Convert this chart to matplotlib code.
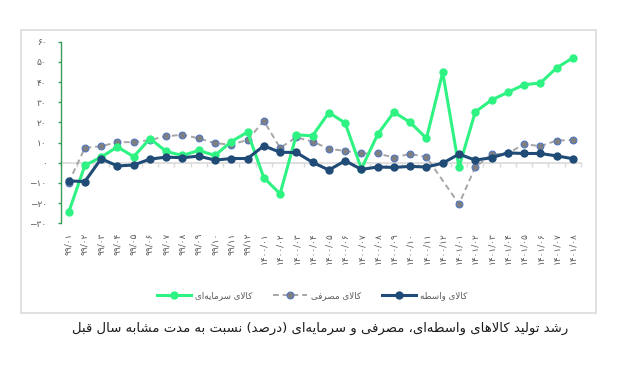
import numpy as np
import matplotlib.pyplot as plt
from matplotlib import font_manager, ft2font
from matplotlib.patches import Rectangle

# months (Persian calendar) and growth rates in percent
months = ['۹۹/۰۱', '۹۹/۰۲', '۹۹/۰۳', '۹۹/۰۴', '۹۹/۰۵', '۹۹/۰۶', '۹۹/۰۷', '۹۹/۰۸',
          '۹۹/۰۹', '۹۹/۱۰', '۹۹/۱۱', '۹۹/۱۲',
          '۱۴۰۰/۰۱', '۱۴۰۰/۰۲', '۱۴۰۰/۰۳', '۱۴۰۰/۰۴', '۱۴۰۰/۰۵', '۱۴۰۰/۰۶', '۱۴۰۰/۰۷',
          '۱۴۰۰/۰۸', '۱۴۰۰/۰۹', '۱۴۰۰/۱۰', '۱۴۰۰/۱۱', '۱۴۰۰/۱۲',
          '۱۴۰۱/۰۱', '۱۴۰۱/۰۲', '۱۴۰۱/۰۳', '۱۴۰۱/۰۴', '۱۴۰۱/۰۵', '۱۴۰۱/۰۶', '۱۴۰۱/۰۷',
          '۱۴۰۱/۰۸']
capital = [-24.6, -1.3, 2.8, 7.9, 3.0, 12.0, 5.6, 3.6, 6.1, 3.6, 10.5, 15.2,
           -7.4, -15.4, 13.8, 13.4, 24.9, 19.7, -3.0, 14.1, 25.1, 20.0, 12.1, 44.8,
           -2.3, 25.2, 31.1, 34.9, 38.7, 39.5, 47.0, 52.0]
consumer = [-9.8, 7.4, 8.2, 10.2, 10.2, 11.3, 13.1, 13.9, 12.1, 9.7, 9.0, 11.3,
            20.7, 7.4, 12.6, 10.5, 6.9, 5.9, 4.6, 4.6, 2.6, 4.4, 2.8, np.nan,
            -20.5, -2.1, 4.1, 4.6, 9.3, 8.2, 11.0, 11.3]
intermediate = [-9.0, -9.3, 2.0, -1.6, -1.1, 1.8, 2.8, 2.5, 3.3, 1.3, 2.1, 2.1,
                8.4, 5.2, 5.1, 0.2, -3.6, 1.0, -3.3, -2.1, -2.3, -1.8, -2.1, -0.2,
                4.3, 1.3, 2.5, 4.9, 4.6, 4.6, 3.4, 2.0]
yticks = [-30, -20, -10, 0, 10, 20, 30, 40, 50, 60]
ytick_labels = ['−۳۰', '−۲۰', '−۱۰', '۰', '۱۰', '۲۰', '۳۰', '۴۰', '۵۰', '۶۰']

label_capital = 'کالای سرمایه‌ای'
label_consumer = 'کالای مصرفی'
label_intermediate = 'کالای واسطه'
caption = 'رشد تولید کالاهای واسطه‌ای، مصرفی و سرمایه‌ای (درصد) نسبت به مدت مشابه سال قبل'

# --- tiny Persian shaper (matplotlib has no complex text layout) ---
# isolated, final, initial, medial
FORMS = {
    'ا': ('\uFE8D', '\uFE8E', None, None),
    'ب': ('\uFE8F', '\uFE90', '\uFE91', '\uFE92'),
    'ت': ('\uFE95', '\uFE96', '\uFE97', '\uFE98'),
    'د': ('\uFEA9', '\uFEAA', None, None),
    'ر': ('\uFEAD', '\uFEAE', None, None),
    'س': ('\uFEB1', '\uFEB2', '\uFEB3', '\uFEB4'),
    'ش': ('\uFEB5', '\uFEB6', '\uFEB7', '\uFEB8'),
    'ص': ('\uFEB9', '\uFEBA', '\uFEBB', '\uFEBC'),
    'ط': ('\uFEC1', '\uFEC2', '\uFEC3', '\uFEC4'),
    'ف': ('\uFED1', '\uFED2', '\uFED3', '\uFED4'),
    'ق': ('\uFED5', '\uFED6', '\uFED7', '\uFED8'),
    'ل': ('\uFEDD', '\uFEDE', '\uFEDF', '\uFEE0'),
    'م': ('\uFEE1', '\uFEE2', '\uFEE3', '\uFEE4'),
    'ن': ('\uFEE5', '\uFEE6', '\uFEE7', '\uFEE8'),
    'ه': ('\uFEE9', '\uFEEA', '\uFEEB', '\uFEEC'),
    'و': ('\uFEED', '\uFEEE', None, None),
    'ک': ('\uFB8E', '\uFB8F', '\uFB90', '\uFB91'),
    'ی': ('\uFBFC', '\uFBFD', '\uFBFE', '\uFBFF'),
    'لا': ('\uFEFB', '\uFEFC', None, None),
}
FALLBACK = {
    'ک': ('\uFED9', '\uFEDA', '\uFEDB', '\uFEDC'),
    'ی': ('\uFEEF', '\uFEF0', '\uFEF3', '\uFEF4'),
}
_ft = ft2font.FT2Font(font_manager.findfont('DejaVu Sans'))
for k, v in FALLBACK.items():
    if any(_ft.get_char_index(ord(c)) == 0 for c in FORMS[k]):
        FORMS[k] = v


def fa(text):
    units = []
    i = 0
    while i < len(text):
        if text[i] == 'ل' and i + 1 < len(text) and text[i + 1] == 'ا':
            units.append('لا')
            i += 2
        else:
            units.append(text[i])
            i += 1
    out = []
    for i, u in enumerate(units):
        if u not in FORMS:
            if u != '\u200c':
                out.append({'(': ')', ')': '('}.get(u, u))
            continue
        f = FORMS[u]
        prev = i > 0 and units[i - 1] in FORMS and FORMS[units[i - 1]][2] is not None
        nxt = f[2] is not None and i + 1 < len(units) and units[i + 1] in FORMS
        if prev and nxt:
            out.append(f[3])
        elif prev:
            out.append(f[1])
        elif nxt:
            out.append(f[2])
        else:
            out.append(f[0])
    return ''.join(reversed(out))


plt.rcParams['font.family'] = ['DejaVu Sans']

green = '#2ef383'
navy = '#1f4b76'
gray = '#a6a6a6'
axis_green = '#3a9a5c'
label_color = '#595959'

fig = plt.figure(figsize=(6.18, 3.77), dpi=100)
ax = fig.add_axes([0.0979, 0.4077, 0.8422, 0.4817])

x = np.arange(len(months))
cons = np.array(consumer)
ok = ~np.isnan(cons)

ax.plot(x[ok], cons[ok], color=gray, lw=1.4, ls=(0, (3, 2)), marker='o', ms=5,
        mfc='#7f7f7f', mec='#4a74c8', mew=0.7, zorder=3, label=fa(label_consumer))
ax.plot(x, capital, color=green, lw=2.2, marker='o', ms=5, mfc=green, mec=green,
        zorder=4, label=fa(label_capital))
ax.plot(x, intermediate, color=navy, lw=2.2, marker='o', ms=5, mfc=navy, mec=navy,
        zorder=5, label=fa(label_intermediate))

ax.set_xlim(-0.5, len(months) - 0.5)
ax.set_ylim(-30, 60)

for s in ['top', 'right', 'bottom']:
    ax.spines[s].set_visible(False)
ax.spines['left'].set_color(axis_green)
ax.spines['left'].set_linewidth(1.0)

ax.set_yticks(yticks)
ax.set_yticklabels(ytick_labels)
ax.tick_params(axis='y', length=2.5, width=1.0, color=axis_green, pad=7.5,
               labelsize=6.5, labelcolor=label_color)
ax.set_xticks(x)
ax.set_xticklabels(months, rotation=90, va='top', ha='center')
ax.tick_params(axis='x', length=0, pad=6.5, labelsize=6.5, labelcolor=label_color)

# zero line with category ticks
zero = ax.secondary_xaxis(0, transform=ax.transData)
zero.spines['bottom'].set_color('#d9d9d9')
zero.spines['bottom'].set_linewidth(1.2)
zero.set_xticks(np.arange(len(months) + 1) - 0.5)
zero.tick_params(length=3, width=1.0, color='#d9d9d9', labelbottom=False)

# chart frame
fig.patches.append(Rectangle((21 / 618, 1 - 313 / 377), 575 / 618, 283 / 377,
                             transform=fig.transFigure, fill=False,
                             ec='#dcdcdc', lw=1.2))

h, l = ax.get_legend_handles_labels()
order = [1, 0, 2]
fig.legend([h[i] for i in order], [l[i] for i in order], loc='center',
           bbox_to_anchor=(0.505, 0.215), ncol=3, frameon=False, fontsize=6.3,
           handlelength=3.9, columnspacing=2.4, handletextpad=0.4,
           labelcolor=label_color)

fig.text(0.518, 0.128, fa(caption), ha='center', va='center', fontsize=9.5,
         color='#1a1a1a')

fig.savefig('out.png', dpi=100)
